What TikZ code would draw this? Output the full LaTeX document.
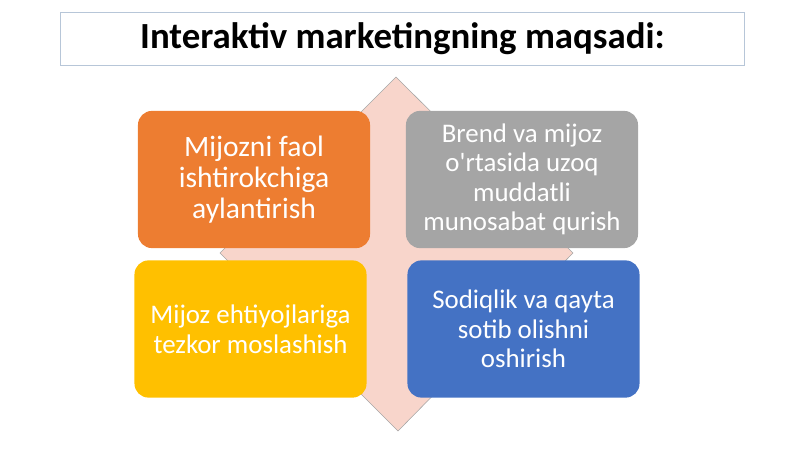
\documentclass[tikz,border=0pt]{standalone}
\usepackage{fontspec}
\setmainfont{Carlito}
\newfontfamily\goalfont{Carlito}
\usepackage{xcolor}
\usetikzlibrary{positioning}
\definecolor{goalorange}{HTML}{ED7D31}
\definecolor{goalgray}{HTML}{A5A5A5}
\definecolor{goalyellow}{HTML}{FFC000}
\definecolor{goalblue}{HTML}{4472C4}
\definecolor{diamondpink}{HTML}{F8D5CB}
\definecolor{titleframe}{HTML}{B7C6D8}

\begin{document}
\begin{tikzpicture}[x=0.025cm,y=-0.025cm,
  goal/.style={rounded corners=10pt, minimum width=5.8cm, minimum height=3.43cm,
    align=center, text=white, font=\goalfont\fontsize{19.1}{21}\selectfont, inner sep=0pt}]

\useasboundingbox (0,0) rectangle (800,449);

\draw[gray!70, fill=diamondpink, line width=0.4pt] (396,77) -- (573,253) -- (398,431) -- (220,253) -- cycle;

\node (title) at (402.5,39) [draw=titleframe, fill=white, line width=0.8pt, minimum width=17.1cm, minimum height=1.33cm,
  font=\fontsize{26.2}{30}\selectfont\bfseries]{Interaktiv marketingning maqsadi:};

\node (g1) at (254,179.5) [goal, fill=goalorange, font=\goalfont\fontsize{21}{22}\selectfont]{Mijozni faol\\ishtirokchiga\\aylantirish};
\node (g2) at (522,179.5) [goal, fill=goalgray]{Brend va mijoz\\o'rtasida uzoq\\muddatli\\munosabat qurish};
\node (g3) at (250.5,329) [goal, fill=goalyellow]{Mijoz ehtiyojlariga\\tezkor moslashish};
\node (g4) at (523.5,329) [goal, fill=goalblue]{Sodiqlik va qayta\\sotib olishni\\oshirish};

\end{tikzpicture}
\end{document}
